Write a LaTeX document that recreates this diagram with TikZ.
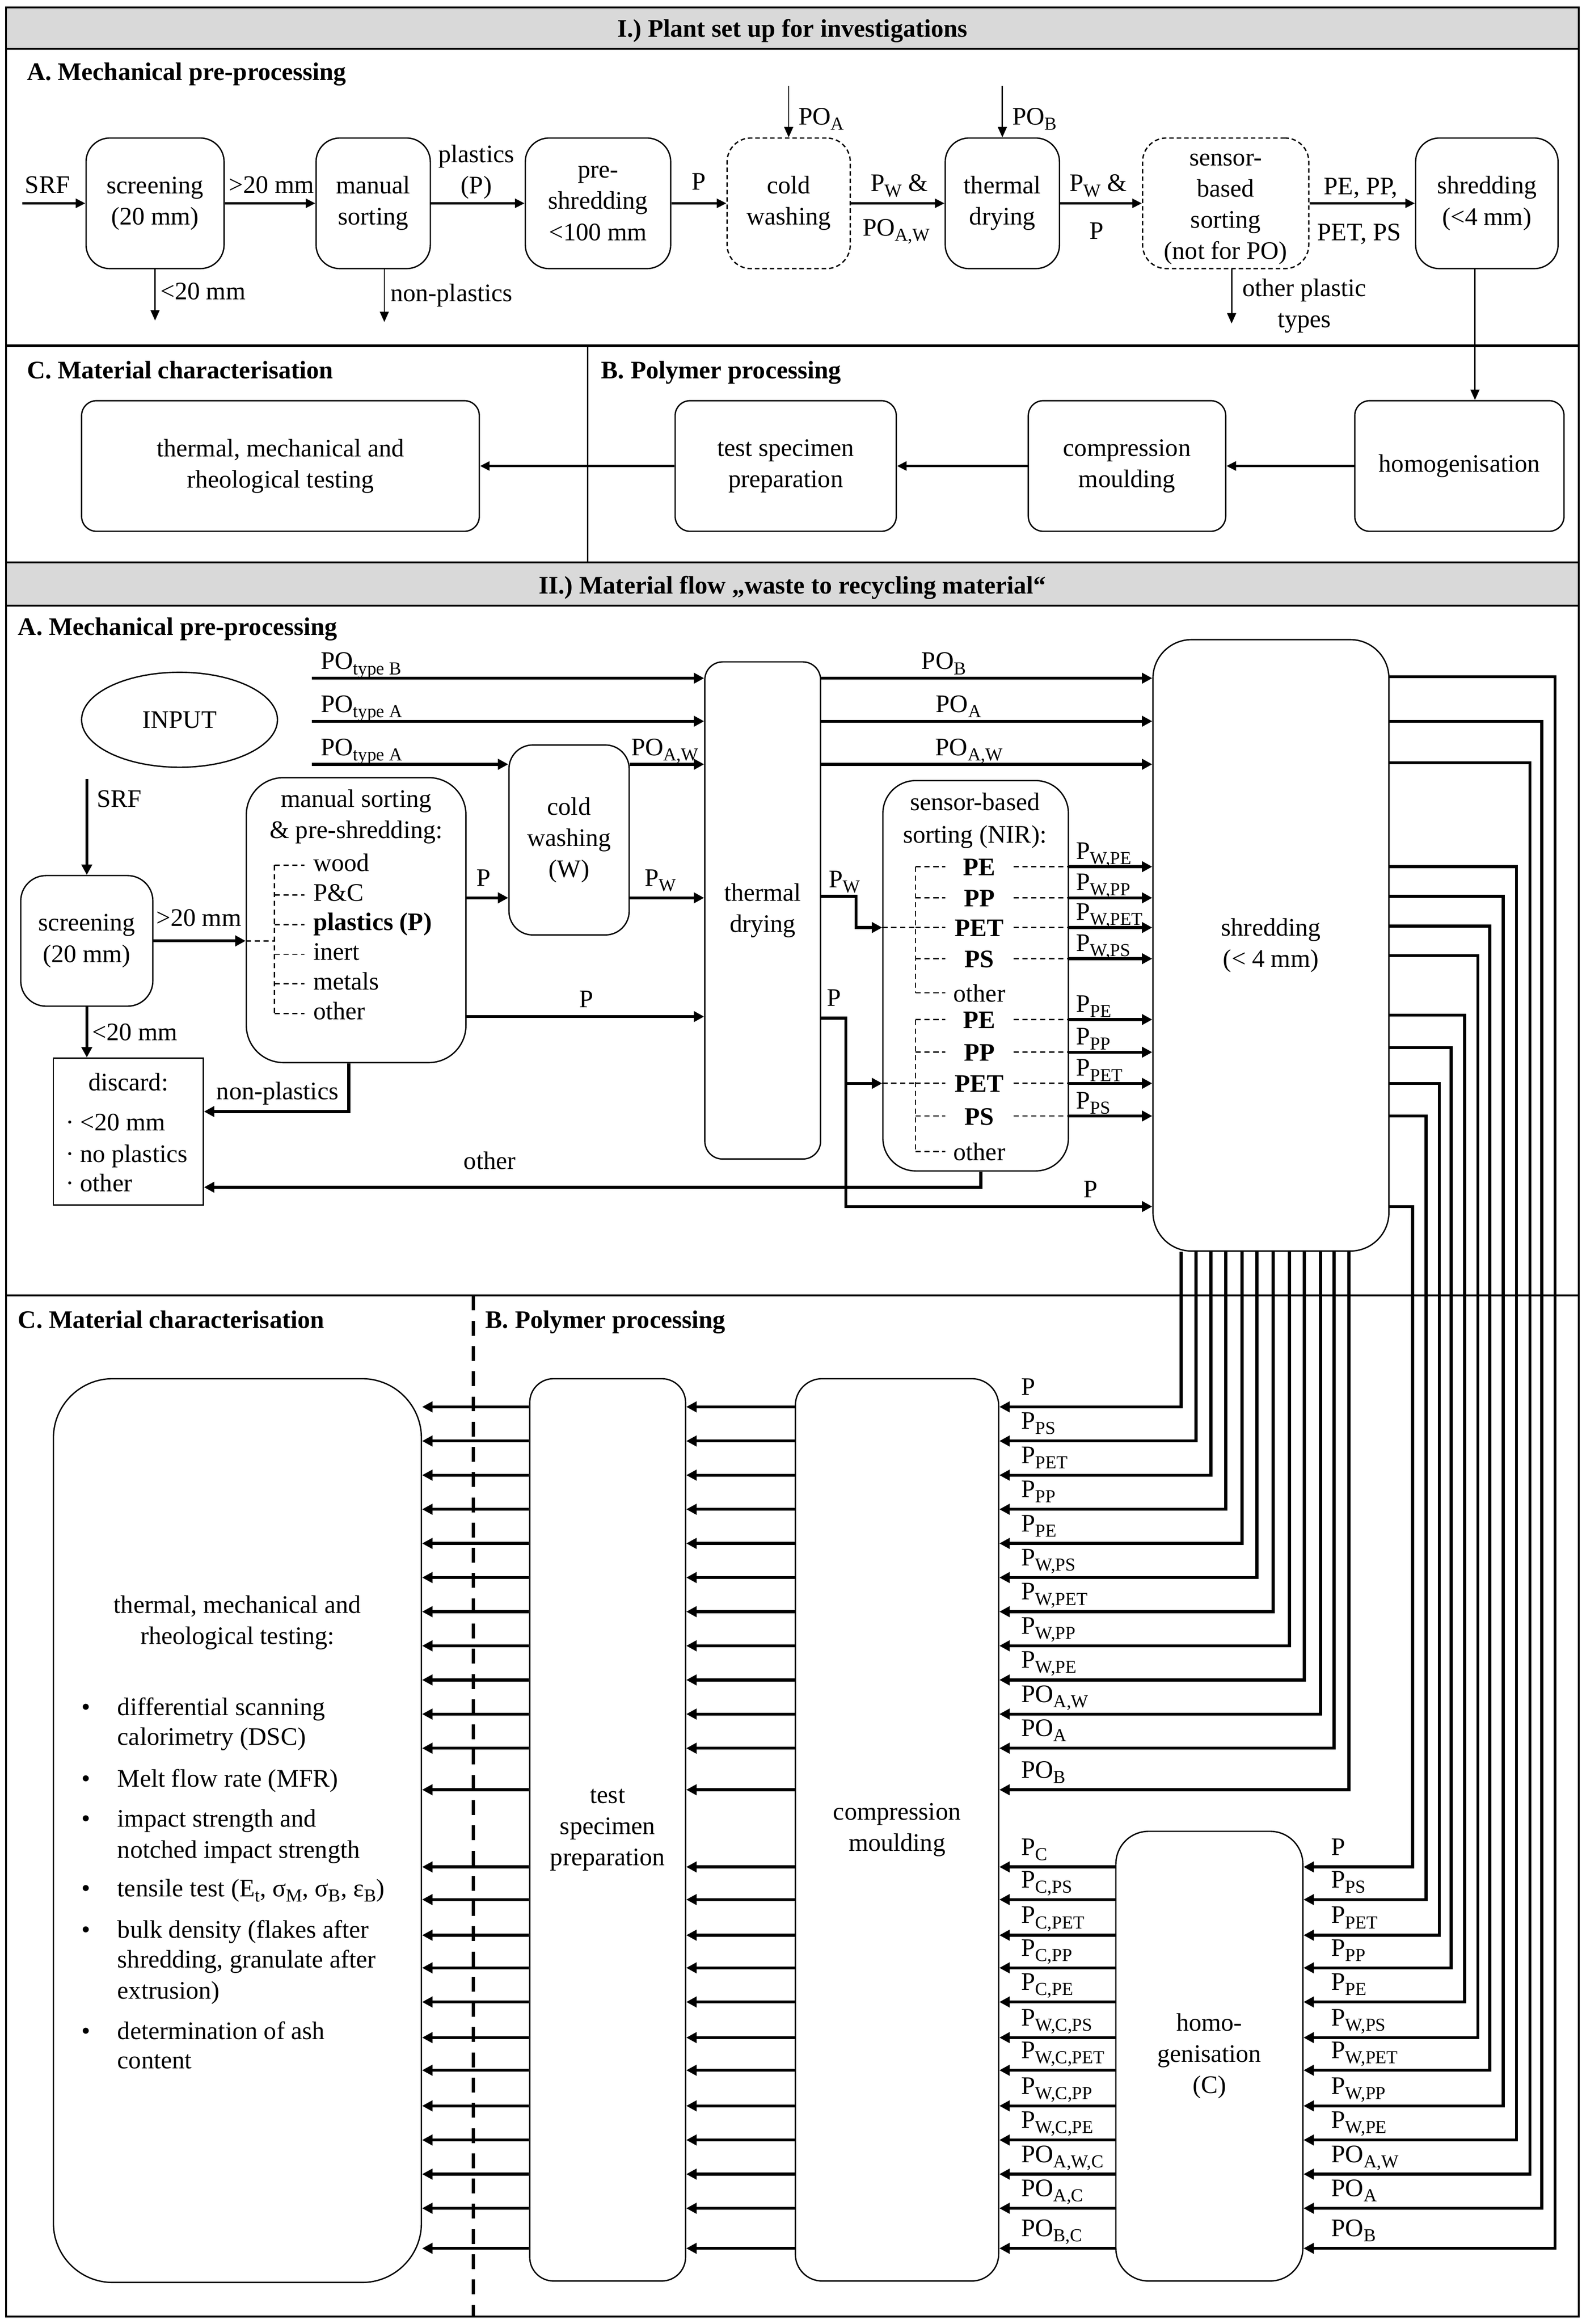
\documentclass[tikz,border=0pt]{standalone}
\usepackage{fontspec}
\setmainfont{Liberation Serif}
\usetikzlibrary{arrows.meta,shapes.geometric}
\definecolor{hdrgray}{RGB}{217,217,217}
\newcommand{\lo}[1]{\raisebox{-3.5pt}{\fontsize{12.3}{13}\selectfont #1}}
\begin{document}
\begin{tikzpicture}[x=1pt,y=-1pt,
  every node/.style={font=\fontsize{17}{21}\selectfont, inner sep=0pt},
  box/.style={draw, line width=0.9pt, rounded corners=#1, align=center},
  box/.default=16pt,
  dbox/.style={box=#1, dash pattern=on 3pt off 2pt},
  dbox/.default=16pt,
  arr/.style={line width=2pt, -{Triangle[length=7pt,width=7pt]}},
  arrone/.style={line width=1.6pt, -{Triangle[length=6.5pt,width=6pt]}},
  tarr/.style={line width=0.9pt, -{Triangle[length=7pt,width=6pt]}},
  tline/.style={line width=0.9pt, dash pattern=on 3.5pt off 2.5pt},
  hdr/.style={font=\bfseries\fontsize{17}{21}\selectfont},
  frame/.style={line width=1.3pt},
]
\useasboundingbox (0,0) rectangle (1066,1566);
% ---------- frames ----------
\fill[hdrgray] (4,5) rectangle (1064,33);
\fill[hdrgray] (4,379) rectangle (1064,408);
\draw[frame] (4,5) rectangle (1064,1561);
\draw[frame] (4,33) -- (1064,33);
\draw[line width=1.6pt] (4,233) -- (1064,233);
\draw[line width=0.9pt] (396,233) -- (396,379);
\draw[frame] (4,379) -- (1064,379);
\draw[frame] (4,408) -- (1064,408);
\draw[frame] (4,873) -- (1064,873);
\draw[line width=2.3pt, dash pattern=on 10pt off 7pt] (319,873) -- (319,1561);
% ---------- headers ----------
\node[hdr, anchor=base] (t1) at (534,25) {I.) Plant set up for investigations};
\node[hdr, anchor=base] (t2) at (534,400) {II.) Material flow „waste to recycling material“};
\node[hdr, anchor=base west] (s1a) at (18,54) {A. Mechanical pre-processing};
\node[hdr, anchor=base west] (s1c) at (18,255) {C. Material characterisation};
\node[hdr, anchor=base west] (s1b) at (405,255) {B. Polymer processing};
\node[hdr, anchor=base west] (s2a) at (12,428) {A. Mechanical pre-processing};
\node[hdr, anchor=base west] (s2c) at (12,895) {C. Material characterisation};
\node[hdr, anchor=base west] (s2b) at (327,895) {B. Polymer processing};

% ================= SECTION I =================
\node[box, minimum width=93pt, minimum height=88pt] (scr1) at (104.5,137) {screening\\(20 mm)};
\node[box, minimum width=77pt, minimum height=88pt] (man1) at (251.5,137) {manual\\sorting};
\node[box, minimum width=98pt, minimum height=88pt] (pre1) at (403,137) {pre-\\shredding\\<100 mm};
\node[dbox, minimum width=83pt, minimum height=88pt] (cold1) at (531.5,137) {cold\\washing};
\node[box, minimum width=77pt, minimum height=88pt] (therm1) at (675.5,137) {thermal\\drying};
\node[dbox, minimum width=112pt, minimum height=88pt] (sens1) at (826,137) {};
\node[align=center] (sens1t) at (826,141) {sensor-\\based\\sorting\\(not for PO)};
\node[box, minimum width=96pt, minimum height=88pt] (shred1) at (1002,137) {shredding\\(<4 mm)};

\node[box=10pt, minimum width=268pt, minimum height=88pt] (test1) at (189,314) {thermal, mechanical and\\rheological testing};
\node[box=10pt, minimum width=149pt, minimum height=88pt] (spec1) at (529.5,314) {test specimen\\preparation};
\node[box=10pt, minimum width=133pt, minimum height=88pt] (comp1) at (759.5,314) {compression\\moulding};
\node[box=10pt, minimum width=141pt, minimum height=88pt] (hom1) at (983.5,314) {homogenisation};

\coordinate (srf1) at (15,137);
\draw[arrone] (srf1) -- (scr1.west);
\node[anchor=base] (lsrf1) at (32,130) {SRF};
\draw[arrone] (scr1.east) -- (man1.west);
\node[anchor=base] (lg1) at (183,130) {>20 mm};
\draw[arrone] (man1.east) -- (pre1.west);
\node[align=center] (lpl1) at (321,116) {plastics\\(P)};
\draw[arrone] (pre1.east) -- (cold1.west);
\node[anchor=base] (lp1) at (471,128) {P};
\draw[arrone] (cold1.east) -- (therm1.west);
\node[anchor=base] (lpw1) at (606,129) {P\lo{W} \&};
\node[anchor=base] (lpoaw1) at (604,159) {PO\lo{A,W}};
\draw[arrone] (therm1.east) -- (sens1.west);
\node[anchor=base] (lpw2) at (740,129) {P\lo{W} \&};
\node[anchor=base] (lp2) at (739,161) {P};
\draw[arrone] (sens1.east) -- (shred1.west);
\node[anchor=base] (lpe1) at (917,131) {PE, PP,};
\node[anchor=base] (lpet1) at (916,162) {PET, PS};

\coordinate (poa1) at (531.5,58);
\draw[tarr] (poa1) -- (cold1.north);
\node[anchor=base west] (lpoa1) at (538,84) {PO\lo{A}};
\coordinate (pob1) at (675.5,58);
\draw[tarr] (pob1) -- (therm1.north);
\node[anchor=base west] (lpob1) at (682,84) {PO\lo{B}};

\coordinate (d1) at (104.5,216);
\draw[tarr] (scr1.south) -- (d1);
\node[anchor=base west] (ld1) at (108,202) {<20 mm};
\coordinate (d2) at (259,217);
\draw[tarr] (man1.south -| d2) -- (d2);
\node[anchor=base west] (ld2) at (263,203) {non-plastics};
\coordinate (d3) at (830,218);
\draw[tarr] (sens1.south -| d3) -- (d3);
\node[align=center] (ld3) at (879,206) {other plastic\\types};
\coordinate (sx) at (994,0);
\draw[tarr] (shred1.south -| sx) -- (hom1.north -| sx);

\draw[arrone] (hom1.west) -- (comp1.east);
\draw[arrone] (comp1.west) -- (spec1.east);
\draw[arrone] (spec1.west) -- (test1.east);

% ================= SECTION II =================
\node[draw, ellipse, line width=0.9pt, minimum width=132pt, minimum height=64pt] (input) at (121,485) {INPUT};
\node[box=17pt, minimum width=89pt, minimum height=88pt] (scr2) at (58.5,634) {screening\\(20 mm)};
\node[box=25pt, minimum width=148pt, minimum height=192pt] (man2) at (240,620) {};
\node[box=16pt, minimum width=81pt, minimum height=128pt] (cold2) at (383.5,566) {cold\\washing\\(W)};
\node[box=12pt, minimum width=78pt, minimum height=335pt] (therm2) at (514,613.5) {thermal\\drying};
\node[box=22pt, minimum width=125pt, minimum height=263pt] (sens2) at (657.5,657.5) {};
\node[box=26pt, minimum width=159pt, minimum height=412pt] (shred2) at (856.5,637) {shredding\\(< 4 mm)};
\node[draw, line width=0.9pt, minimum width=101pt, minimum height=99pt] (disc2) at (86.5,762.5) {};
\node[box=40pt, minimum width=248pt, minimum height=609pt] (test2) at (160,1233.5) {};
\node[box=16pt, minimum width=105pt, minimum height=608pt] (spec2) at (409.5,1233) {test\\specimen\\preparation};
\node[box=18pt, minimum width=137pt, minimum height=608pt] (comp2) at (604.5,1233) {compression\\moulding};
\node[box=22pt, minimum width=126pt, minimum height=303pt] (hom2) at (815,1385.5) {homo-\\genisation\\(C)};

% manual sorting contents
\node[anchor=base] (mtitle1) at (240,544) {manual sorting};
\node[anchor=base] (mtitle2) at (240,565) {\& pre-shredding:};
\draw[tline] (185,583) -- (185,683);
\foreach \yy/\txt in {583/wood, 603/{P\&C}, 623/{\textbf{plastics (P)}}, 643/inert, 663/metals, 683/other} {
  \draw[tline] (185,\yy) -- (205,\yy);
  \node[anchor=base west] at (211,\yy+4) {\txt};
}
% discard contents
\node[anchor=base] (dtitle) at (86.5,735) {discard:};
\node[anchor=base west] (di1) at (44,762) {· <20 mm};
\node[anchor=base west] (di2) at (44,783) {· no plastics};
\node[anchor=base west] (di3) at (44,803) {· other};

% input flows
\coordinate (srf2) at (58.5,525);
\draw[arr] (srf2) -- (scr2.north);
\node[anchor=base west] (lsrf2) at (65,544) {SRF};
\draw[arr] (scr2.east) -- (scr2.east -| man2.west);
\coordinate (mtx) at (185,0);
\draw[tline] (scr2.east -| man2.west) -- (scr2.east -| mtx);
\node[anchor=base] (lg2) at (134,624) {>20 mm};
\draw[arr] (scr2.south) -- (scr2.south |- disc2.north);
\node[anchor=base west] (ll2) at (62,701) {<20 mm};

\coordinate (ptb) at (210,457);
\draw[arr] (ptb) -- (ptb -| therm2.west);
\node[anchor=base west] (lptb) at (216,451) {PO\lo{type B}};
\coordinate (pta1) at (210,486);
\draw[arr] (pta1) -- (pta1 -| therm2.west);
\node[anchor=base west] (lpta1) at (216,480) {PO\lo{type A}};
\coordinate (pta2) at (210,515);
\draw[arr] (pta2) -- (pta2 -| cold2.west);
\node[anchor=base west] (lpta2) at (216,509) {PO\lo{type A}};
\draw[arr] (pta2 -| cold2.east) -- (pta2 -| therm2.west);
\node[anchor=base] (lpoaw2) at (448,509) {PO\lo{A,W}};

\coordinate (yp1) at (0,605);
\draw[arr] (man2.east |- yp1) -- (cold2.west |- yp1);
\node[anchor=base] (lp3) at (326,597) {P};
\draw[arr] (cold2.east |- yp1) -- (therm2.west |- yp1);
\node[anchor=base] (lpw3) at (445,597) {P\lo{W}};
\coordinate (yp2) at (0,685);
\draw[arr] (man2.east |- yp2) -- (therm2.west |- yp2);
\node[anchor=base] (lp4) at (395,679) {P};

\coordinate (np) at (235,749);
\draw[arr] (man2.south -| np) -- (np) -- (np -| disc2.east);
\node[anchor=base] (lnp) at (187,741) {non-plastics};

% thermal drying -> shredding
\draw[arr] (ptb -| therm2.east) -- (ptb -| shred2.west);
\node[anchor=base] (lpob2) at (636,451) {PO\lo{B}};
\draw[arr] (pta1 -| therm2.east) -- (pta1 -| shred2.west);
\node[anchor=base] (lpoa2) at (646,480) {PO\lo{A}};
\draw[arr] (pta2 -| therm2.east) -- (pta2 -| shred2.west);
\node[anchor=base] (lpoaw3) at (653,509) {PO\lo{A,W}};

\coordinate (pw1) at (577,604);
\coordinate (pw2) at (577,625);
\draw[arr] (therm2.east |- pw1) -- (pw1) -- (pw2) -- (pw2 -| sens2.west);
\node[anchor=base] (lpw4) at (569,598) {P\lo{W}};
\coordinate (pp1) at (570,686);
\coordinate (pp2) at (570,730);
\coordinate (pp3) at (570,813);
\draw[arr] (therm2.east |- pp1) -- (pp1) -- (pp3) -- (pp3 -| shred2.west);
\draw[arr] (pp2) -- (pp2 -| sens2.west);
\node[anchor=base] (lp5) at (562,678) {P};
\node[anchor=base] (lp6) at (735,807) {P};

% sensor-based sorting contents
\node[anchor=base] (stitle1) at (657,546) {sensor-based};
\node[anchor=base] (stitle2) at (657,568) {sorting (NIR):};
\coordinate (stx) at (617,0);
\draw[tline] (pw2 -| sens2.west) -- (pw2 -| stx);
\draw[tline] (pp2 -| sens2.west) -- (pp2 -| stx);
\draw[tline] (617,584) -- (617,669);
\draw[tline] (617,687) -- (617,776);
\foreach \yy/\txt/\lab in {584/PE/{P\lo{W,PE}}, 605/PP/{P\lo{W,PP}}, 625/PET/{P\lo{W,PET}}, 646/PS/{P\lo{W,PS}}, 687/PE/{P\lo{PE}}, 709/PP/{P\lo{PP}}, 730/PET/{P\lo{PET}}, 752/PS/{P\lo{PS}}} {
  \node[anchor=base, font=\bfseries\fontsize{17}{21}\selectfont] at (660,\yy+6) {\txt};
  \draw[tline] (617,\yy) -- (637,\yy);
  \coordinate (q) at (0,\yy);
  \draw[tline] (683,\yy) -- (sens2.east |- q);
  \draw[arr] (sens2.east |- q) -- (shred2.west |- q);
  \node[anchor=base west] at (725,\yy-5) {\lab};
}
\foreach \yy in {669,776} {
  \draw[tline] (617,\yy) -- (637,\yy);
  \node[anchor=base] at (660,\yy+6) {other};
}
\coordinate (oth) at (661,800);
\draw[arr] (sens2.south -| oth) -- (oth) -- (oth -| disc2.east);
\node[anchor=base] (loth) at (330,788) {other};

% shredding (right side) -> homogenisation
\foreach \yo/\xx/\yy/\lab in {456/1048/1515/{PO\lo{B}}, 486/1039/1488/{PO\lo{A}}, 514/1031/1465/{PO\lo{A,W}}, 584/1022/1442/{P\lo{W,PE}}, 604/1013/1419/{P\lo{W,PP}}, 624/1004/1395/{P\lo{W,PET}}, 644/996/1373/{P\lo{W,PS}}, 684/987/1349/{P\lo{PE}}, 706/978/1326/{P\lo{PP}}, 730/970/1304/{P\lo{PET}}, 752/961/1280/{P\lo{PS}}, 813/952/1258/{P}} {
  \coordinate (qa) at (\xx,\yo);
  \coordinate (qb) at (\xx,\yy);
  \draw[arr] (shred2.east |- qa) -- (qa) -- (qb) -- (hom2.east |- qb);
  \node[anchor=base west] at (897,\yy-8) {\lab};
}
% shredding (bottom) -> compression moulding
\foreach \xx/\yy/\lab in {796/948/{P}, 806/971/{P\lo{PS}}, 816/994/{P\lo{PET}}, 826/1017/{P\lo{PP}}, 837/1040/{P\lo{PE}}, 847/1063/{P\lo{W,PS}}, 858/1086/{P\lo{W,PET}}, 869/1109/{P\lo{W,PP}}, 879/1132/{P\lo{W,PE}}, 890/1155/{PO\lo{A,W}}, 899/1178/{PO\lo{A}}, 909/1206/{PO\lo{B}}} {
  \coordinate (q) at (\xx,\yy);
  \draw[arr] (shred2.south -| q) -- (q) -- (comp2.east |- q);
  \node[anchor=base west] at (688,\yy-8) {\lab};
}
% homogenisation -> compression moulding
\foreach \yy/\lab in {1258/{P\lo{C}}, 1280/{P\lo{C,PS}}, 1304/{P\lo{C,PET}}, 1326/{P\lo{C,PP}}, 1349/{P\lo{C,PE}}, 1373/{P\lo{W,C,PS}}, 1395/{P\lo{W,C,PET}}, 1419/{P\lo{W,C,PP}}, 1442/{P\lo{W,C,PE}}, 1465/{PO\lo{A,W,C}}, 1488/{PO\lo{A,C}}, 1515/{PO\lo{B,C}}} {
  \coordinate (q) at (0,\yy);
  \draw[arr] (hom2.west |- q) -- (comp2.east |- q);
  \node[anchor=base west] at (688,\yy-8) {\lab};
}
% compression -> specimen -> testing
\foreach \yy in {948,971,994,1017,1040,1063,1086,1109,1132,1155,1178,1206,1258,1280,1304,1326,1349,1373,1395,1419,1442,1465,1488,1515} {
  \coordinate (q) at (0,\yy);
  \draw[arr] (comp2.west |- q) -- (spec2.east |- q);
  \draw[arr] (spec2.west |- q) -- (test2.east |- q);
}
% testing contents
\node[anchor=base] (ttitle1) at (160,1087) {thermal, mechanical and};
\node[anchor=base] (ttitle2) at (160,1108) {rheological testing:};
\foreach \yy in {1156,1204,1231,1278,1306,1374} {
  \node[anchor=base] at (58,\yy) {•};
}
\foreach \yy/\txt in {1156/differential scanning, 1176/calorimetry (DSC), 1204/Melt flow rate (MFR), 1231/impact strength and, 1252/notched impact strength, 1278/{tensile test (E\lo{t}, σ\lo{M}, σ\lo{B}, ε\lo{B})}, 1306/bulk density (flakes after, 1326/{shredding, granulate after}, 1347/extrusion), 1374/determination of ash, 1394/content} {
  \node[anchor=base west] at (79,\yy) {\txt};
}
\end{tikzpicture}
\end{document}
